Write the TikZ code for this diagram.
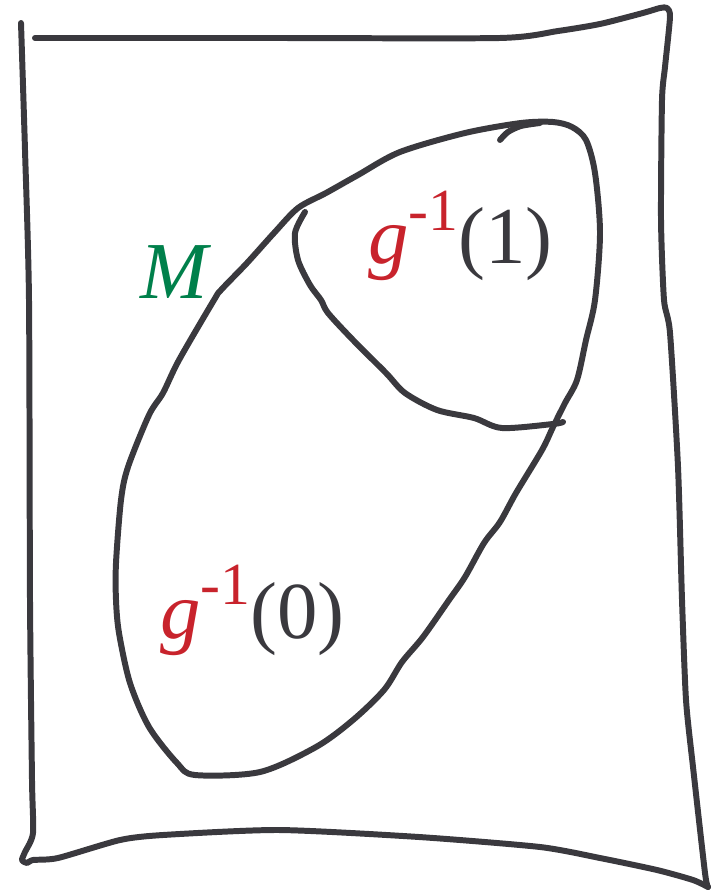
\documentclass[tikz,border=0pt]{standalone}
\usepackage{fontspec}
\setmainfont{LiberationSerif}[Extension=.ttf, UprightFont=*-Regular, ItalicFont=*-Italic, BoldFont=*-Bold]
\usepackage{xcolor}
\definecolor{ink}{HTML}{3A393E}
\definecolor{gred}{HTML}{C8232C}
\definecolor{mgreen}{HTML}{00804B}
\newcommand{\supm}{\raisebox{0.42em}{\fontsize{34}{34}\selectfont -1}}

\begin{document}
\begin{tikzpicture}[x=0.02cm, y=-0.02cm,
    sketch/.style={draw=ink, line width=3.4pt, line cap=round, line join=round},
    lbl/.style={inner sep=0pt, anchor=base west, text=ink, font=\fontsize{46}{46}\selectfont}]
    \useasboundingbox (0,0) rectangle (721,891);
    % frame
    \draw[sketch] plot[smooth, tension=0.4] coordinates {(35,38) (270,38) (500,38) (558,31) (600,24) (643,13) (660,8) (667,8) (670,17) (665,67) (662,100) (661,220) (664,300) (670,333) (678,467) (682,600) (686,700) (693,767) (705,873) (708,887)};
    \draw[sketch] plot[smooth, tension=0.4] coordinates {(21,23) (25,150) (29,300) (30,600) (32,780) (33,833) (25,852) (22,860) (27,863) (33,860) (58,858) (120,840) (163,835) (279,830) (419,837) (540,847) (600,858) (657,870) (693,880) (708,887)};
    % M
    \draw[sketch] plot[smooth cycle, tension=0.5] coordinates {(298,208) (326,193) (358,175) (400,152) (465,133) (521,123) (553,122) (572,127) (586,140) (595,173) (600,233) (595,300) (586,340) (577,380) (565,403) (553,427) (542,450) (516,493) (500,522) (484,543) (465,577) (449,600) (423,637) (402,662) (384,690) (353,720) (316,747) (260,772) (195,775) (177,763) (149,727) (130,683) (119,633) (116,600) (116,563) (121,500) (128,467) (149,415) (163,393) (179,360) (214,300) (221,290) (247,263) (274,233)};
    \draw[sketch] plot[smooth] coordinates {(500,140) (508,132) (521,126) (540,123)};
    % g^{-1}(1) boundary
    \draw[sketch] plot[smooth, tension=0.5] coordinates {(305,212) (295,233) (298,260) (310,285) (321,300) (328,313) (353,340) (386,373) (405,393) (437,410) (474,418) (502,428) (553,424) (563,422)};
    \node[lbl, text=mgreen] (M) at (140,299) {\textit{M}};
    \node[lbl] (lbl1) at (368,264) {\textcolor{gred}{\textit{g}\supm}(1)};
    \node[lbl] (lbl0) at (160,638) {\textcolor{gred}{\textit{g}\supm}(0)};
\end{tikzpicture}
\end{document}
